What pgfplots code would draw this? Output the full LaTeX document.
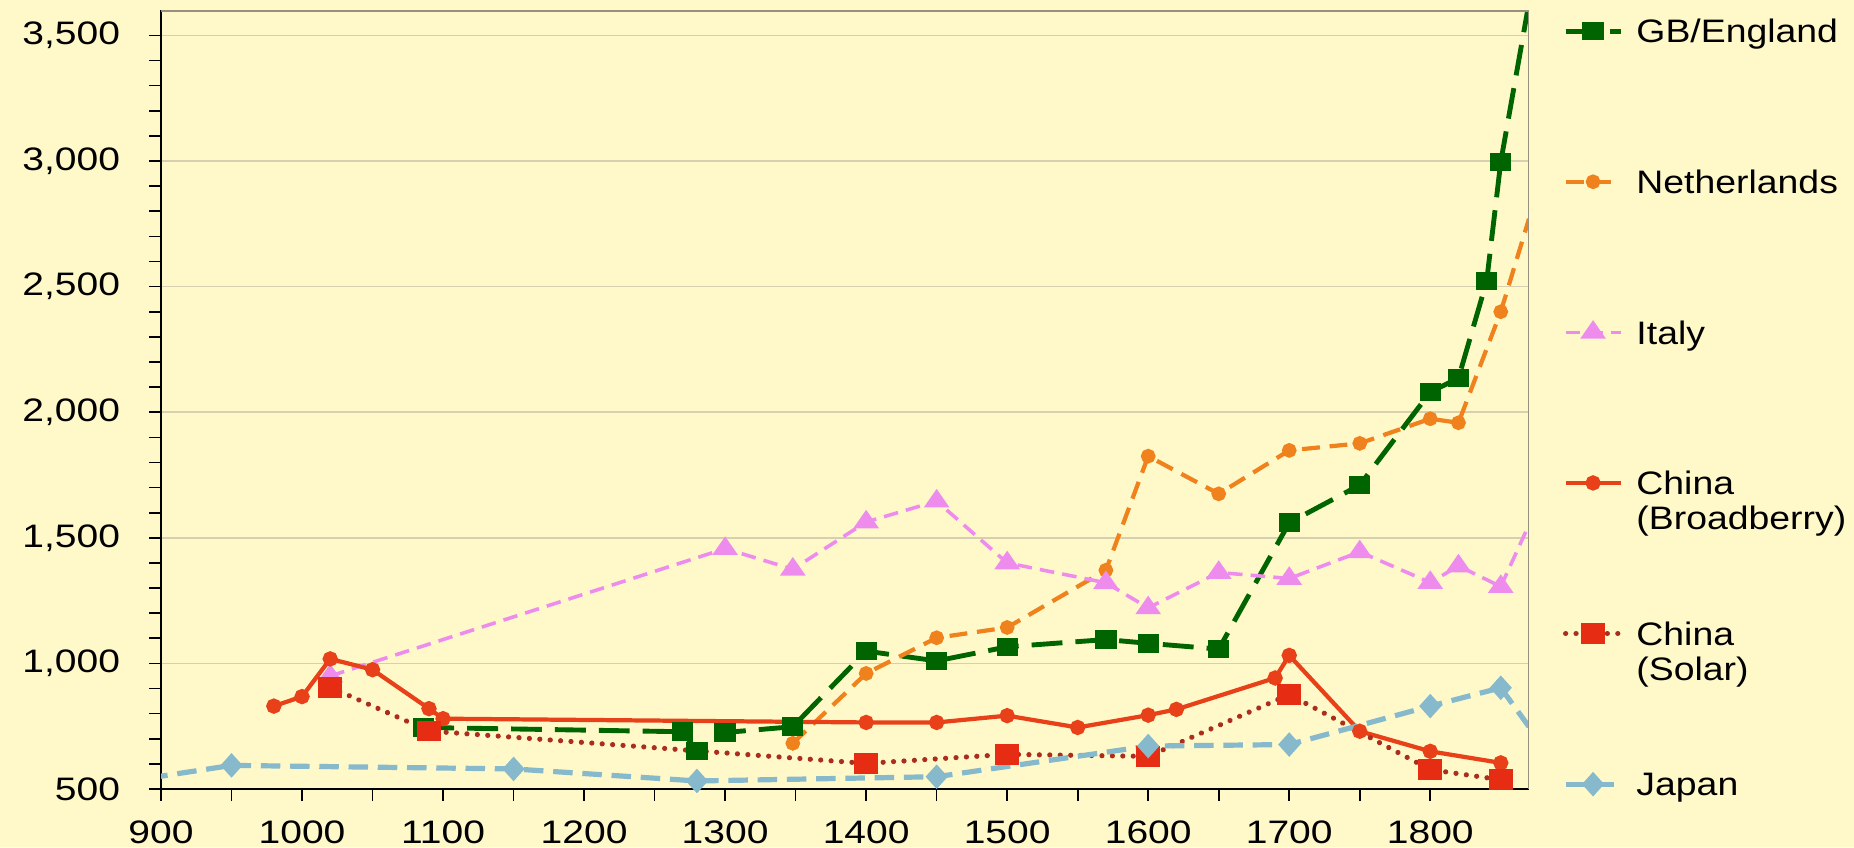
\documentclass[border=0pt]{standalone}
\usepackage{fontspec}
\setmainfont{Liberation Sans}
\usepackage{graphicx}
\usepackage{pgfplots}
\pgfplotsset{compat=1.18}

\definecolor{bg}{RGB}{255,249,202}
\definecolor{gbc}{RGB}{0,100,0}
\definecolor{nlc}{RGB}{240,130,30}
\definecolor{itc}{RGB}{238,140,238}
\definecolor{cbc}{RGB}{232,65,25}
\definecolor{csl}{RGB}{170,45,30}
\definecolor{csm}{RGB}{230,45,20}
\definecolor{jpc}{RGB}{135,185,205}
\definecolor{gridc}{RGB}{214,208,176}
\definecolor{framec}{RGB}{150,145,125}

\newcommand{\hs}[1]{\scalebox{1.2}[1]{#1}}
\newcommand{\ls}[1]{\raisebox{-3.6pt}{\scalebox{1.15}[1]{#1}}}
\renewcommand{\arraystretch}{0.9}

\pgfplotsset{
  gbline/.style={gbc, line width=1.5pt, dash pattern=on 9.5pt off 4pt},
  nlline/.style={nlc, line width=1.3pt, dash pattern=on 5.5pt off 3pt},
  itline/.style={itc, line width=1.1pt, dash pattern=on 4.5pt off 2.5pt},
  cbline/.style={cbc, line width=1.3pt, solid},
  csline/.style={csl, line width=1.6pt, line cap=round, dash pattern=on 0.01pt off 3.2pt},
  jpline/.style={jpc, line width=1.6pt, dash pattern=on 6pt off 3pt},
}

\begin{document}
\begin{tikzpicture}
\fill[bg] (0,0) rectangle (570.46pt,260.62pt);
\begin{axis}[
  at={(49.54pt,17.85pt)}, anchor=south west, scale only axis,
  width=420.92pt, height=239.6pt,
  xmin=900, xmax=1870, ymin=500, ymax=3600,
  axis x line*=bottom, axis y line*=left,
  xtick={900,1000,...,1800}, minor x tick num=1,
  ytick={500,1000,...,3500}, minor y tick num=4,
  tick align=outside,
  major tick length=3.6pt, minor tick length=3.6pt,
  every tick/.style={black, line width=0.5pt},
  ymajorgrids, major grid style={gridc, line width=0.5pt},
  axis line style={black, line width=0.6pt},
  axis background/.style={fill=bg},
  xticklabel={\hs{\pgfmathprintnumber[assume math mode=true,1000 sep={}]{\tick}}},
  yticklabel={\hs{\pgfmathprintnumber[assume math mode=true,1000 sep={,}]{\tick}}},
  xticklabel style={inner sep=0pt, yshift=-5.9pt},
  yticklabel style={inner sep=0pt, xshift=-8.8pt},
  legend cell align=left,
  legend style={at={(axis description cs:1.0263,0.9866)}, anchor=north west,
    draw=none, fill=none, inner sep=0pt, row sep=40.34pt, column sep=4.9pt,
    nodes={inner sep=0pt, text height=0pt, text depth=0pt}},
  legend image code/.code={%
    \pgfpathrectangle{\pgfpoint{0pt}{-3pt}}{\pgfpoint{16.9pt}{6pt}}\pgfusepath{use as bounding box}%
    \draw[mark repeat=2,mark phase=2,#1] plot coordinates {(0pt,0pt) (8.45pt,0pt) (16.9pt,0pt)};},
]
% GB/England
\addplot[gbline, mark=square*, mark size=2.1pt, mark options={solid, fill=gbc, xscale=1.2}] coordinates {
(1086,745) (1270,728) (1280,651) (1300,725) (1348,748) (1400,1049) (1450,1010) (1500,1066)
(1570,1095) (1600,1080) (1650,1057) (1700,1560) (1750,1710) (1800,2080) (1820,2136)
(1840,2522) (1850,2997)};
\addlegendentry{\ls{GB/England}}
\addplot[gbline, no marks, forget plot] coordinates {(1850,2997) (1870,3630)};
% Netherlands
\addplot[nlline, mark=*, mark size=1.6pt, mark options={solid, fill=nlc}] coordinates {
(1348,682) (1400,960) (1450,1102) (1500,1143) (1570,1371) (1600,1825) (1650,1675)
(1700,1848) (1750,1876) (1800,1974) (1820,1958) (1850,2400)};
\addlegendentry{\ls{Netherlands}}
\addplot[nlline, no marks, forget plot] coordinates {(1850,2400) (1870,2770)};
% Italy
\addplot[itline, mark=triangle*, mark size=2.8pt, mark options={solid, fill=itc, xscale=1.2}] coordinates {
(1020,950) (1300,1457) (1348,1375) (1400,1563) (1450,1646) (1500,1400) (1570,1321)
(1600,1221) (1650,1362) (1700,1338) (1750,1444) (1800,1322) (1820,1388) (1850,1306)};
\addlegendentry{\ls{Italy}}
\addplot[itline, no marks, forget plot] coordinates {(1850,1306) (1870,1552)};
% China (Broadberry)
\addplot[cbline, mark=*, mark size=1.7pt, mark options={solid, fill=cbc}] coordinates {
(980,830) (1000,868) (1020,1018) (1050,975) (1090,820) (1100,780) (1400,765) (1450,765)
(1500,792) (1550,745) (1600,794) (1620,817) (1690,942) (1700,1032) (1750,730)
(1800,650) (1850,604)};
\addlegendentry{\ls{\begin{tabular}[t]{@{}l@{}}China\\(Broadberry)\end{tabular}}}
% China (Solar)
\addplot[csline, mark=square*, mark size=2.4pt, mark options={solid, fill=csm, draw=csm, xscale=1.2}] coordinates {
(1020,905) (1090,731) (1400,602) (1500,638) (1600,630) (1700,876) (1800,577) (1850,537)};
\addlegendentry{\ls{\begin{tabular}[t]{@{}l@{}}China\\(Solar)\end{tabular}}}
% Japan
\addplot[jpline, mark=diamond*, mark size=2.6pt, mark options={solid, fill=jpc, xscale=1.2}] coordinates {
(950,594) (1150,580) (1280,532) (1450,549) (1600,671) (1700,677) (1800,830) (1850,903)};
\addlegendentry{\ls{Japan}}
\addplot[jpline, no marks, forget plot] coordinates {(850,508) (950,594)};
\addplot[jpline, no marks, forget plot] coordinates {(1850,903) (1870,748)};
\draw[framec, line width=0.8pt] (rel axis cs:0,1) -- (rel axis cs:1,1) -- (rel axis cs:1,0);
\end{axis}
\pgfresetboundingbox
\useasboundingbox (0,0) rectangle (570.46pt,260.62pt);
\end{tikzpicture}
\end{document}
